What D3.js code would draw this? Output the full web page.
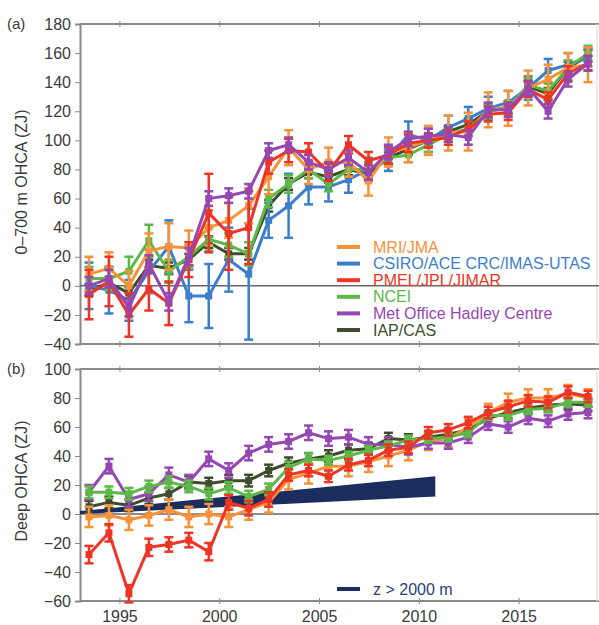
<!DOCTYPE html>
<html><head><meta charset="utf-8">
<script src="https://cdn.jsdelivr.net/npm/d3@7"></script>
<style>body{margin:0;background:#fff}svg{display:block;font-family:"Liberation Sans",Arial,sans-serif}</style>
</head><body><svg id="c" width="599" height="625"></svg>
<script>
const years = d3.range(1993, 2019);
const seriesNames = ["MRI/JMA","CSIRO/ACE CRC/IMAS-UTAS","PMEL/JPL/JIMAR","NCEI","Met Office Hadley Centre","IAP/CAS"];
const seriesColors = ["#f7923a","#3b7fcc","#ee3424","#5cb947","#9647b3","#3e4d2b"];
const xTicks = [1995, 2000, 2005, 2010, 2015];
const yTicksA = [-40,-20,0,20,40,60,80,100,120,140,160,180];
const yTicksB = [-60,-40,-20,0,20,40,60,80,100];

// Panel (a) 0-700 m OHCA
const mriA   = [8,12,0,24,27,26,40,45,55,75,95,80,85,85,72,92,95,100,105,106,121,122,136,142,150,152];
const mriAErr= [12,11,10,12,16,12,12,12,12,12,12,10,10,10,10,10,10,10,12,13,12,12,12,10,10,12];
const csiroA = [0,-3,-10,10,27,-7,-7,18,8,45,55,68,68,73,80,87,104,100,109,115,122,126,136,148,152,157];
const csiroAErr=[16,16,14,15,18,18,22,22,45,12,22,12,10,9,8,8,9,8,8,8,8,8,8,8,8,6];
const pmelA  = [-6,3,-20,-2,-12,18,50,36,40,85,93,92,78,97,86,90,98,100,102,108,118,119,135,128,146,153];
const pmelAErr=[17,17,15,15,15,12,27,25,25,8,8,6,6,6,6,6,6,5,5,5,5,5,5,5,5,5];
const nceiA  = [5,5,10,31,10,20,32,28,22,60,70,80,70,80,80,88,90,97,104,108,120,122,138,134,150,160];
const nceiAErr=[8,8,10,11,8,8,8,8,8,6,6,6,5,5,5,5,5,5,5,5,5,5,5,5,5,5];
const metA   = [0,5,-15,15,-11,20,60,62,65,93,97,85,80,88,78,92,101,103,104,102,121,121,136,120,142,153];
const metAErr= [6,6,6,6,6,6,5,5,5,5,5,5,5,5,5,5,5,5,5,5,5,5,5,5,5,5];
const iapA   = [-3,2,-5,14,12,18,30,22,22,55,70,78,75,80,77,88,94,100,106,111,120,123,137,132,150,158];
const iapAErr= [4,4,4,4,4,4,4,4,4,4,4,4,4,4,4,4,4,4,4,4,4,4,4,4,4,4];

// Panel (b) deep OHCA
const mriB   = [-2,-1,-4,-1,3,-2,0,-2,3,8,24,28,33,33,36,40,44,50,52,60,70,77,80,80,83,80];
const mriBErr= [7,7,7,7,7,7,7,7,7,7,7,7,7,7,7,7,7,6,6,6,6,6,6,6,6,6];
const pmelB  = [-28,-13,-55,-23,-21,-18,-26,8,4,10,27,30,26,34,37,44,46,56,58,63,70,74,78,77,84,81];
const pmelBErr=[6,6,6,6,5,5,6,5,5,5,4,4,4,4,4,4,4,4,4,4,4,4,4,4,4,4];
const nceiB  = [15,15,14,19,22,19,14,18,12,17,32,38,37,40,44,47,51,52,53,56,68,68,72,73,77,77];
const nceiBErr=[4,4,4,4,4,4,4,4,4,4,4,4,3,3,3,3,3,3,3,3,3,3,3,3,3,3];
const metB   = [15,33,10,14,27,22,38,30,42,48,50,56,52,53,48,48,46,49,49,53,62,60,66,64,69,70];
const metBErr= [5,5,5,5,5,5,5,5,5,5,5,5,5,5,5,5,5,4,4,4,4,4,4,4,4,4];
const iapB   = [5,8,6,11,14,22,21,23,23,30,35,38,40,44,45,52,51,53,55,58,66,70,73,75,76,75];
const iapBErr= [4,4,4,4,4,4,4,4,4,4,4,4,4,4,4,4,4,4,4,4,4,4,4,4,4,4];

// Deep (>2000 m) band
const bandYears = [1993, 2010.8];
const bandLow = [0, 12];
const bandHigh = [2, 26];

const svg = d3.select("#c");
const W = 599;
const x = d3.scaleLinear().domain([1993, 2019]).range([80, 599]);
const off = 0.45;
const yA = d3.scaleLinear().domain([-40, 180]).range([344, 24]);
const yB = d3.scaleLinear().domain([-60, 100]).range([601, 369]);
const axisCol = "#8a8a8a", txtCol = "#3a3a3a";

function frame(y, ticks, label, title, tcy) {
  const g = svg.append("g");
  const [ymin, ymax] = y.domain();
  // top & bottom lines
  [ymax, ymin].forEach(v => {
    g.append("line").attr("x1", 80).attr("x2", W).attr("y1", y(v)).attr("y2", y(v))
      .attr("stroke", axisCol).attr("stroke-width", 2);
    xTicks.forEach(t => g.append("line").attr("x1", x(t)).attr("x2", x(t))
      .attr("y1", y(v) - 3).attr("y2", y(v) + 3).attr("stroke", axisCol).attr("stroke-width", 1));
  });
  g.append("line").attr("x1", 597).attr("x2", 597).attr("y1", y(ymax)).attr("y2", y(ymin))
    .attr("stroke", "#e4e4e4").attr("stroke-width", 1.5);
  const ax = d3.axisLeft(y).tickValues(ticks).tickSize(5).tickPadding(4);
  const ga = g.append("g").attr("transform", "translate(80,0)").call(ax);
  ga.select(".domain").attr("stroke", axisCol).attr("stroke-width", 2);
  ga.selectAll(".tick line").attr("stroke", axisCol);
  ga.selectAll(".tick text").attr("fill", txtCol).style("font-size", "16px")
    .style("font-family", "Liberation Sans, Arial, sans-serif");
  // zero line
  g.append("line").attr("x1", 80).attr("x2", W).attr("y1", y(0)).attr("y2", y(0))
    .attr("stroke", "#666").attr("stroke-width", 1.5);
  svg.append("text").attr("x", 7).attr("y", y(ymax) + 5).attr("fill", txtCol)
    .style("font-size", "15px").text(label);
  svg.append("text").attr("transform", `translate(27,${tcy}) rotate(-90)`).attr("text-anchor", "middle")
    .attr("fill", txtCol).style("font-size", "16px").text(title);
}

frame(yA, yTicksA, "(a)", "0–700 m OHCA (ZJ)", 182);
frame(yB, yTicksB, "(b)", "Deep OHCA (ZJ)", 481);

// bottom year labels
xTicks.forEach(t => svg.append("text").attr("x", x(t)).attr("y", 622).attr("text-anchor", "middle")
  .attr("fill", txtCol).style("font-size", "16px").text(t));

// navy band
const bandArea = d3.area().x(d => x(d[0])).y0(d => yB(d[1])).y1(d => yB(d[2]));
svg.append("path").datum(bandYears.map((yy, i) => [yy, bandLow[i], bandHigh[i]]))
  .attr("d", bandArea).attr("fill", "#1b2d5e");

function drawSeries(y, vals, errs, color) {
  const g = svg.append("g");
  const pts = years.map((yr, i) => ({ x: x(yr + off), v: vals[i], e: errs[i] }));
  pts.forEach(p => {
    const y1 = y(p.v + p.e), y2 = y(p.v - p.e);
    g.append("line").attr("x1", p.x).attr("x2", p.x).attr("y1", y1).attr("y2", y2)
      .attr("stroke", color).attr("stroke-width", 2.5);
    [y1, y2].forEach(yy => g.append("line").attr("x1", p.x - 4.5).attr("x2", p.x + 4.5)
      .attr("y1", yy).attr("y2", yy).attr("stroke", color).attr("stroke-width", 2.5));
  });
  g.append("path").datum(pts).attr("d", d3.line().x(d => d.x).y(d => y(d.v)))
    .attr("fill", "none").attr("stroke", color).attr("stroke-width", 3).attr("stroke-linejoin", "round");
  g.selectAll("rect").data(pts).enter().append("rect")
    .attr("x", d => d.x - 3.5).attr("y", d => y(d.v) - 3.5).attr("width", 7).attr("height", 7)
    .attr("fill", color);
}

// panel a draw order
drawSeries(yA, iapA, iapAErr, seriesColors[5]);
drawSeries(yA, csiroA, csiroAErr, seriesColors[1]);
drawSeries(yA, nceiA, nceiAErr, seriesColors[3]);
drawSeries(yA, mriA, mriAErr, seriesColors[0]);
drawSeries(yA, pmelA, pmelAErr, seriesColors[2]);
drawSeries(yA, metA, metAErr, seriesColors[4]);

// panel b
drawSeries(yB, iapB, iapBErr, seriesColors[5]);
drawSeries(yB, mriB, mriBErr, seriesColors[0]);
drawSeries(yB, metB, metBErr, seriesColors[4]);
drawSeries(yB, nceiB, nceiBErr, seriesColors[3]);
drawSeries(yB, pmelB, pmelBErr, seriesColors[2]);

// legend a
const legY0 = 247, legDy = 16.6;
seriesNames.forEach((n, i) => {
  const yy = legY0 + i * legDy;
  svg.append("line").attr("x1", 337).attr("x2", 360).attr("y1", yy).attr("y2", yy)
    .attr("stroke", seriesColors[i]).attr("stroke-width", 4);
  svg.append("text").attr("x", 373).attr("y", yy).attr("dy", "0.35em")
    .attr("fill", seriesColors[i]).style("font-size", "16px").text(n);
});
// legend b
svg.append("line").attr("x1", 337).attr("x2", 360).attr("y1", 589).attr("y2", 589)
  .attr("stroke", "#1b2d5e").attr("stroke-width", 4);
svg.append("text").attr("x", 373).attr("y", 589).attr("dy", "0.35em")
  .attr("fill", "#2c3e7a").style("font-size", "16px").text("z > 2000 m");
</script></body></html>
